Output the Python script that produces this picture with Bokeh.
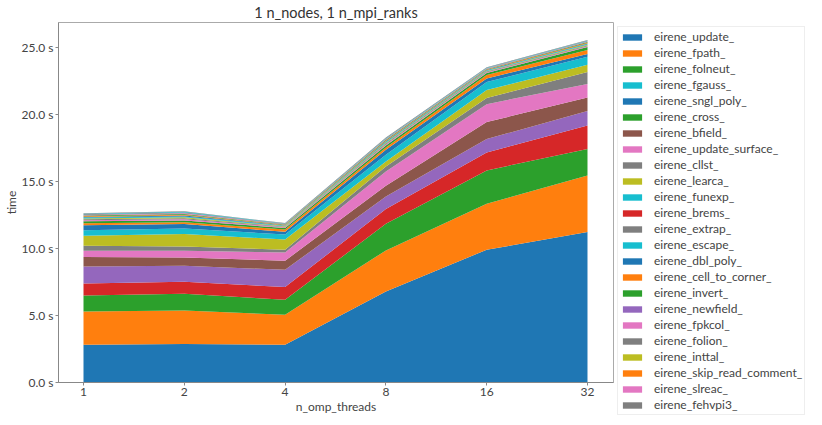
from bokeh.plotting import figure
from bokeh.models import Range1d, FixedTicker, PrintfTickFormatter, Legend, LegendItem, ColumnDataSource
from bokeh.embed import file_html
from bokeh.resources import INLINE

threads = ["1", "2", "4", "8", "16", "32"]
y_ticks = [0, 5, 10, 15, 20, 25]

eirene_update_ = [2.82, 2.87, 2.82, 6.80, 9.92, 11.24]
eirene_fpath_ = [2.49, 2.51, 2.24, 3.07, 3.44, 4.23]
eirene_folneut_ = [1.19, 1.25, 1.12, 1.99, 2.49, 1.98]
eirene_brems_ = [0.90, 0.90, 0.95, 1.10, 1.34, 1.75]
eirene_newfield_ = [1.27, 1.19, 1.29, 0.94, 1.00, 1.08]
eirene_bfield_ = [0.70, 0.62, 0.68, 0.80, 1.27, 1.02]
eirene_update_surface_ = [0.47, 0.50, 0.62, 1.07, 1.34, 1.01]
eirene_cllst_ = [0.38, 0.33, 0.20, 0.37, 0.46, 0.89]
eirene_learca_ = [0.74, 0.92, 0.77, 0.38, 0.59, 0.54]
eirene_fgauss_ = [0.42, 0.42, 0.37, 0.50, 0.60, 0.60]
eirene_sngl_poly_ = [0.37, 0.33, 0.20, 0.37, 0.27, 0.21]
eirene_cell_to_corner_ = [0.15, 0.14, 0.17, 0.17, 0.26, 0.30]
eirene_cross_ = [0.15, 0.12, 0.12, 0.14, 0.14, 0.21]
eirene_fpkcol_ = [0.08, 0.09, 0.05, 0.08, 0.06, 0.07]
eirene_extrap_ = [0.07, 0.08, 0.04, 0.07, 0.05, 0.06]
eirene_inttal_ = [0.06, 0.07, 0.04, 0.06, 0.04, 0.05]
eirene_funexp_ = [0.06, 0.07, 0.03, 0.06, 0.04, 0.05]
eirene_dbl_poly_ = [0.05, 0.06, 0.03, 0.06, 0.04, 0.05]
eirene_skip_read_comment_ = [0.05, 0.06, 0.03, 0.05, 0.04, 0.05]
eirene_invert_ = [0.05, 0.06, 0.03, 0.05, 0.04, 0.05]
eirene_slreac_ = [0.05, 0.06, 0.03, 0.05, 0.03, 0.04]
eirene_folion_ = [0.05, 0.05, 0.03, 0.04, 0.03, 0.04]
eirene_escape_ = [0.04, 0.05, 0.03, 0.04, 0.03, 0.04]
eirene_fehvpi3_ = [0.04, 0.05, 0.02, 0.04, 0.03, 0.04]

BLUE, ORANGE, GREEN, RED, PURPLE = "#1f77b4", "#ff7f0e", "#2ca02c", "#d62728", "#9467bd"
BROWN, PINK, GRAY, OLIVE, CYAN = "#8c564b", "#e377c2", "#7f7f7f", "#bcbd22", "#17becf"

# stacking order, bottom to top
stack = [
    ("eirene_update_", eirene_update_, BLUE),
    ("eirene_fpath_", eirene_fpath_, ORANGE),
    ("eirene_folneut_", eirene_folneut_, GREEN),
    ("eirene_brems_", eirene_brems_, RED),
    ("eirene_newfield_", eirene_newfield_, PURPLE),
    ("eirene_bfield_", eirene_bfield_, BROWN),
    ("eirene_update_surface_", eirene_update_surface_, PINK),
    ("eirene_cllst_", eirene_cllst_, GRAY),
    ("eirene_learca_", eirene_learca_, OLIVE),
    ("eirene_fgauss_", eirene_fgauss_, CYAN),
    ("eirene_sngl_poly_", eirene_sngl_poly_, BLUE),
    ("eirene_cell_to_corner_", eirene_cell_to_corner_, ORANGE),
    ("eirene_cross_", eirene_cross_, GREEN),
    ("eirene_fpkcol_", eirene_fpkcol_, PINK),
    ("eirene_extrap_", eirene_extrap_, GRAY),
    ("eirene_inttal_", eirene_inttal_, OLIVE),
    ("eirene_funexp_", eirene_funexp_, CYAN),
    ("eirene_dbl_poly_", eirene_dbl_poly_, BLUE),
    ("eirene_skip_read_comment_", eirene_skip_read_comment_, ORANGE),
    ("eirene_invert_", eirene_invert_, GREEN),
    ("eirene_slreac_", eirene_slreac_, PINK),
    ("eirene_folion_", eirene_folion_, GRAY),
    ("eirene_escape_", eirene_escape_, CYAN),
    ("eirene_fehvpi3_", eirene_fehvpi3_, GRAY),
]

legend_order = [
    "eirene_update_", "eirene_fpath_", "eirene_folneut_", "eirene_fgauss_",
    "eirene_sngl_poly_", "eirene_cross_", "eirene_bfield_", "eirene_update_surface_",
    "eirene_cllst_", "eirene_learca_", "eirene_funexp_", "eirene_brems_",
    "eirene_extrap_", "eirene_escape_", "eirene_dbl_poly_", "eirene_cell_to_corner_",
    "eirene_invert_", "eirene_newfield_", "eirene_fpkcol_", "eirene_folion_",
    "eirene_inttal_", "eirene_skip_read_comment_", "eirene_slreac_", "eirene_fehvpi3_",
]

FONT = "Lato"
TXT = "#444444"

data = {"x": list(range(len(threads)))}
for name, vals, _ in stack:
    data[name] = vals
source = ColumnDataSource(data)

p = figure(frame_width=555, frame_height=360, output_backend="svg", toolbar_location=None,
           x_range=Range1d(-0.248, 5.258), y_range=Range1d(0, 26.9),
           min_border_left=0, min_border_right=0, min_border_top=15, min_border_bottom=0,
           title="1 n_nodes, 1 n_mpi_ranks")

renderers = p.varea_stack(stackers=[s[0] for s in stack], x="x",
                          color=[s[2] for s in stack], source=source)
by_name = {s[0]: r for s, r in zip(stack, renderers)}

p.title.align = "center"
p.title.text_font = FONT
p.title.text_font_size = "14.5px"
p.title.text_font_style = "normal"
p.title.text_color = "#333333"
p.title.standoff = 3

p.xgrid.visible = False
p.ygrid.visible = False
p.outline_line_color = "#aaaaaa"
p.background_fill_color = "white"

p.xaxis.ticker = FixedTicker(ticks=data["x"])
p.xaxis.major_label_overrides = {i: t for i, t in enumerate(threads)}
p.yaxis.ticker = FixedTicker(ticks=y_ticks)
p.yaxis.formatter = PrintfTickFormatter(format="%.1f s")
p.xaxis.axis_label = "n_omp_threads"
p.yaxis.axis_label = "time"

for ax in (p.xaxis, p.yaxis):
    ax.axis_label_text_font = FONT
    ax.axis_label_text_font_size = "12px"
    ax.axis_label_text_font_style = "normal"
    ax.axis_label_text_color = TXT
    ax.major_label_text_font = FONT
    ax.major_label_text_font_size = "12px"
    ax.major_label_text_color = TXT
    ax.axis_line_color = "#888888"
    ax.major_tick_line_color = "#888888"
    ax.major_tick_out = 3
    ax.major_tick_in = 0
    ax.minor_tick_line_color = None
    ax.major_label_standoff = 2
    ax.axis_label_standoff = 0

items = [LegendItem(label=n, renderers=[by_name[n]]) for n in legend_order]
legend = Legend(items=items, location="top_left", margin=4, padding=2,
                glyph_width=24, glyph_height=8, label_standoff=10,
                spacing=1, label_height=14,
                label_text_font=FONT, label_text_font_size="12px",
                label_text_color=TXT, border_line_color="#dddddd",
                background_fill_color="white", background_fill_alpha=1.0)
p.add_layout(legend, "right")

open("out.html", "w").write(file_html(p, INLINE))
